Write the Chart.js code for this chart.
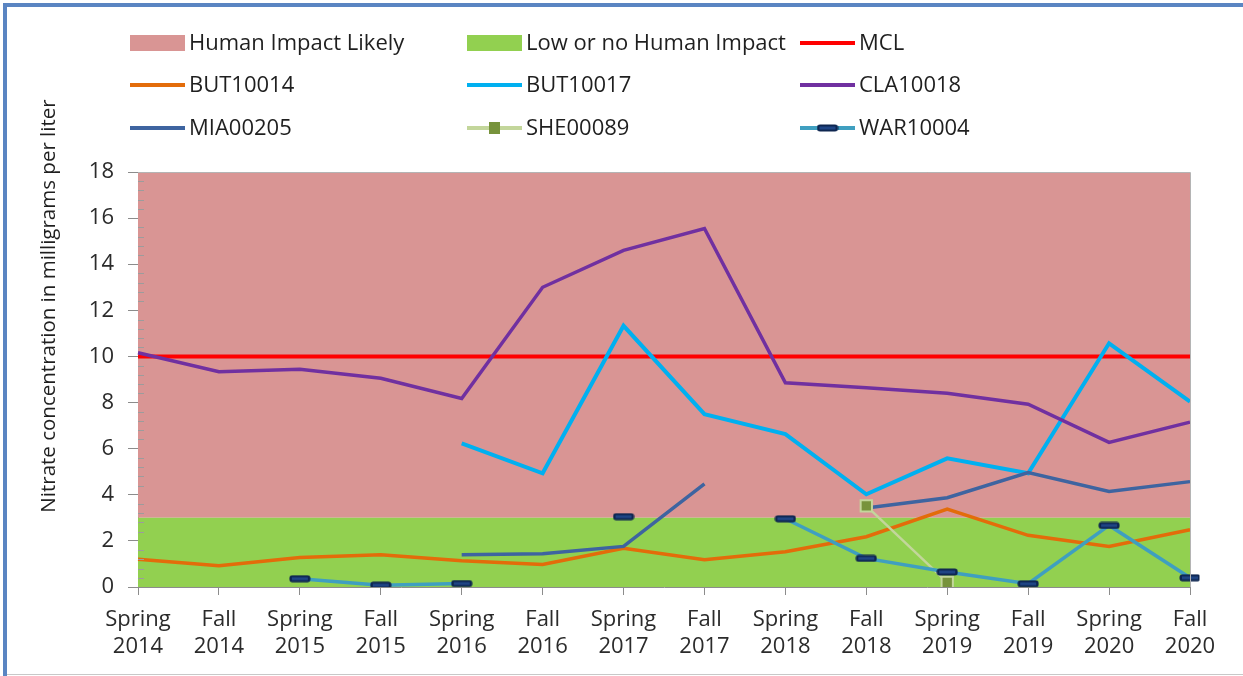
<!DOCTYPE html>
<html>
<head>
<meta charset="utf-8">
<title>Nitrate concentration</title>
<script src="https://cdn.jsdelivr.net/npm/chart.js@4.4.1/dist/chart.umd.min.js"></script>
<style>
  html, body { margin: 0; padding: 0; background: #fff; }
  #nitrateChart { display: block; }
</style>
</head>
<body>
<canvas id="nitrateChart" width="1243" height="676"></canvas>
<script>
// sampling events (x axis)
const seasons = [
  ["Spring", "2014"], ["Fall", "2014"], ["Spring", "2015"], ["Fall", "2015"],
  ["Spring", "2016"], ["Fall", "2016"], ["Spring", "2017"], ["Fall", "2017"],
  ["Spring", "2018"], ["Fall", "2018"], ["Spring", "2019"], ["Fall", "2019"],
  ["Spring", "2020"], ["Fall", "2020"],
];

// background bands and MCL (mg/L)
const humanImpactLikely = [18, 18, 18, 18, 18, 18, 18, 18, 18, 18, 18, 18, 18, 18];
const lowHumanImpact = [3, 3, 3, 3, 3, 3, 3, 3, 3, 3, 3, 3, 3, 3];
const mcl = [10, 10, 10, 10, 10, 10, 10, 10, 10, 10, 10, 10, 10, 10];

// wells
const but10014 = [1.2, 0.92, 1.28, 1.4, 1.14, 0.98, 1.68, 1.18, 1.53, 2.18, 3.38, 2.24, 1.76, 2.48];
const but10017 = [null, null, null, null, 6.23, 4.93, 11.33, 7.5, 6.63, 4.02, 5.58, 4.93, 10.57, 8.04];
const cla10018 = [10.16, 9.34, 9.44, 9.05, 8.18, 13.0, 14.6, 15.55, 8.86, 8.64, 8.4, 7.93, 6.27, 7.15];
const mia00205 = [null, null, null, null, 1.4, 1.44, 1.76, 4.47, null, 3.43, 3.87, 4.96, 4.14, 4.57];
const she00089 = [null, null, null, null, null, null, null, null, null, 3.52, 0.2, null, null, null];
const war10004 = [null, null, 0.36, 0.08, 0.15, null, 3.05, null, 2.96, 1.24, 0.65, 0.14, 2.67, 0.4];

const yTitle = "Nitrate concentration in milligrams per liter";

const textColor = "#2b2b2b";
const fontFamily = "'Open Sans', 'DejaVu Sans', sans-serif";

// dark dash marker used by WAR10004
const makeDashMarker = () => {
  const c = document.createElement("canvas");
  c.width = 22;
  c.height = 8;
  const m = c.getContext("2d");
  m.fillStyle = "#0e2650";
  m.beginPath();
  if (m.roundRect) m.roundRect(0.5, 0.5, 21, 7, 3);
  else m.rect(0.5, 0.5, 21, 7);
  m.fill();
  m.fillStyle = "#1f4585";
  m.fillRect(3, 2.5, 16, 3);
  return c;
};
const dashMarker = makeDashMarker();

const lineDefaults = {
  pointRadius: 0,
  pointHoverRadius: 0,
  borderWidth: 3.5,
  fill: false,
  tension: 0,
};

const datasets = [
  {
    label: "Human Impact Likely",
    data: humanImpactLikely,
    backgroundColor: "#d99594",
    borderColor: "transparent",
    borderWidth: 0,
    pointRadius: 0,
    fill: { value: 3 },
    order: 100,
    legendType: "box",
  },
  {
    label: "Low or no Human Impact",
    data: lowHumanImpact,
    backgroundColor: "#92d050",
    borderColor: "transparent",
    borderWidth: 0,
    pointRadius: 0,
    fill: "origin",
    order: 99,
    legendType: "box",
  },
  { ...lineDefaults, label: "MCL", data: mcl, borderColor: "#ff0000", borderWidth: 4, order: 8 },
  { ...lineDefaults, label: "BUT10014", data: but10014, borderColor: "#e36c0a", order: 7 },
  { ...lineDefaults, label: "BUT10017", data: but10017, borderColor: "#00b0f0", borderWidth: 4, order: 6 },
  { ...lineDefaults, label: "CLA10018", data: cla10018, borderColor: "#7030a0", order: 5 },
  { ...lineDefaults, label: "MIA00205", data: mia00205, borderColor: "#3e64a0", order: 4 },
  {
    ...lineDefaults,
    label: "SHE00089",
    data: she00089,
    borderColor: "#c3d69b",
    borderWidth: 2.5,
    pointStyle: "rect",
    pointRadius: 8,
    pointBackgroundColor: "#77933c",
    pointBorderColor: "#c3d69b",
    pointBorderWidth: 2,
    order: 3,
  },
  {
    ...lineDefaults,
    label: "WAR10004",
    data: war10004,
    borderColor: "#3f9fc0",
    pointStyle: dashMarker,
    pointRadius: 6,
    order: 2,
  },
];

// legend grid positions (3 columns x 3 rows)
const legendCols = [130, 467, 800];
const legendRows = [43, 85, 128];

const pageDecor = {
  id: "pageDecor",
  beforeDraw: (chart) => {
    const { ctx, width, height } = chart;
    ctx.save();
    ctx.fillStyle = "#ffffff";
    ctx.fillRect(0, 0, width, height);
    ctx.fillStyle = "#5a85c2";
    ctx.fillRect(3, 3, width - 3, 4);
    ctx.fillRect(3, 3, 4, height - 3);
    ctx.fillStyle = "#c8c8c8";
    ctx.fillRect(7, height - 2, width - 7, 1);
    ctx.restore();
  },
  afterDatasetsDraw: (chart) => {
    const { ctx, chartArea } = chart;
    const y = chart.scales.y;
    ctx.save();
    // minor ticks inside the plot
    ctx.strokeStyle = "#9c9c9c";
    ctx.lineWidth = 1;
    for (let i = 1; i < 45; i++) {
      if (i % 5 === 0) continue;
      const py = Math.round(y.getPixelForValue(i * 0.4)) + 0.5;
      ctx.beginPath();
      ctx.moveTo(chartArea.left, py);
      ctx.lineTo(chartArea.left + 6, py);
      ctx.stroke();
    }
    // plot border
    ctx.strokeStyle = "#b4b4b4";
    ctx.beginPath();
    ctx.moveTo(chartArea.left, chartArea.top + 0.5);
    ctx.lineTo(chartArea.right + 0.5, chartArea.top + 0.5);
    ctx.lineTo(chartArea.right + 0.5, chartArea.bottom);
    ctx.stroke();
    ctx.restore();
  },
  afterDraw: (chart) => {
    const { ctx } = chart;
    ctx.save();
    // y axis title, centred over plot + legend like the original
    ctx.fillStyle = "#1f1f1f";
    ctx.font = `20.5px ${fontFamily}`;
    ctx.textAlign = "center";
    ctx.textBaseline = "middle";
    ctx.translate(49, 306);
    ctx.rotate(-Math.PI / 2);
    ctx.fillText(yTitle, 0, 0);
    ctx.restore();

    // legend
    ctx.save();
    ctx.font = `22px ${fontFamily}`;
    ctx.textBaseline = "middle";
    ctx.textAlign = "left";
    chart.data.datasets.forEach((ds, i) => {
      const x = legendCols[i % 3];
      const y = legendRows[Math.floor(i / 3)];
      if (ds.legendType === "box") {
        ctx.fillStyle = ds.backgroundColor;
        ctx.fillRect(x, y - 8, 55, 16);
      } else {
        ctx.strokeStyle = ds.borderColor;
        ctx.lineWidth = 4;
        ctx.beginPath();
        ctx.moveTo(x, y);
        ctx.lineTo(x + 55, y);
        ctx.stroke();
        if (ds.pointStyle === "rect") {
          ctx.fillStyle = ds.pointBackgroundColor;
          ctx.fillRect(x + 22, y - 6, 11, 12);
        } else if (ds.pointStyle instanceof HTMLCanvasElement) {
          ctx.drawImage(ds.pointStyle, x + 27.5 - 11, y - 4);
        }
      }
      ctx.fillStyle = "#1f1f1f";
      ctx.fillText(ds.label, x + 59, y + 1);
    });
    ctx.restore();
  },
};

const tickFont = { family: fontFamily, size: 22, lineHeight: 1.23 };

const config = {
  type: "line",
  data: { labels: seasons, datasets: datasets },
  options: {
    responsive: false,
    animation: false,
    events: [],
    layout: { padding: { top: 172, right: 53, bottom: 0, left: 0 } },
    plugins: {
      legend: { display: false },
      tooltip: { enabled: false },
      title: { display: false },
    },
    scales: {
      x: {
        type: "category",
        offset: false,
        grid: { drawOnChartArea: false, tickLength: 8, tickColor: "#8c8c8c" },
        border: { color: "#8c8c8c" },
        ticks: { color: textColor, font: tickFont, padding: 11, maxRotation: 0, autoSkip: false },
        afterFit: (scale) => {
          scale.height = 89;
        },
      },
      y: {
        min: 0,
        max: 18,
        grid: { drawOnChartArea: false, tickLength: 10, tickColor: "#8c8c8c" },
        border: { color: "#8c8c8c" },
        ticks: { stepSize: 2, color: textColor, font: { family: fontFamily, size: 22 }, padding: 14 },
        afterFit: (scale) => {
          scale.width = 138;
        },
      },
    },
  },
  plugins: [pageDecor],
};

new Chart(document.getElementById("nitrateChart"), config);
</script>
</body>
</html>
